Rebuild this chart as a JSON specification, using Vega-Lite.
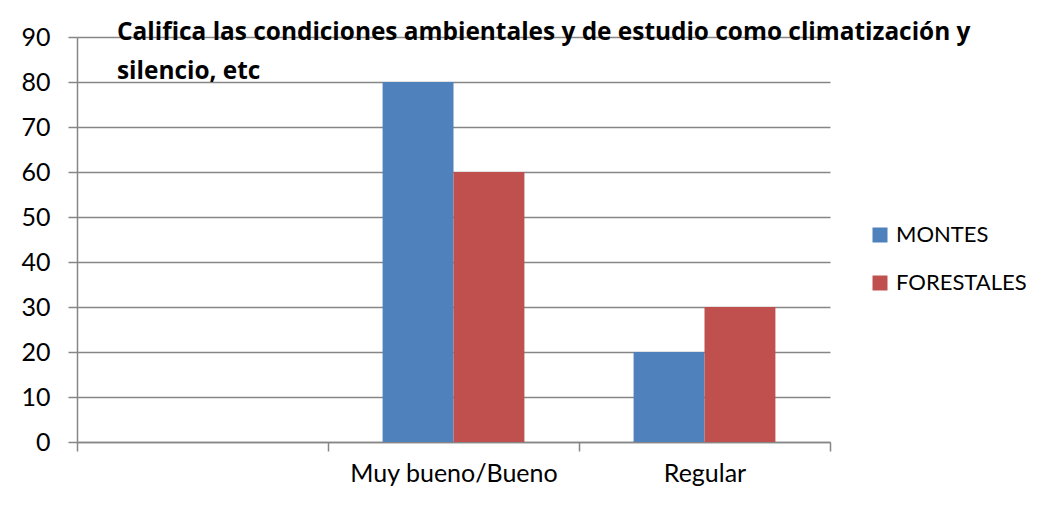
{
  "$schema": "https://vega.github.io/schema/vega-lite/v6.json",
  "width": 753,
  "height": 405,
  "autosize": {"type": "none"},
  "padding": {"left": 77, "top": 37, "right": 225, "bottom": 66},
  "background": "white",
  "config": {
    "view": {"stroke": null},
    "font": "Lato",
    "axis": {"labelFont": "Lato", "labelColor": "black", "labelFontSize": 25, "labelLimit": 0, "domainColor": "#868686", "tickColor": "#868686", "gridColor": "#868686", "domainWidth": 1.5, "tickWidth": 1.5, "gridWidth": 1.5}
  },
  "title": {
    "text": ["Califica las condiciones ambientales y de estudio como climatización y", "silencio, etc"],
    "anchor": "start",
    "frame": "group",
    "orient": "top",
    "font": "Open Sans",
    "fontSize": 24.4,
    "fontWeight": "bold",
    "color": "black",
    "baseline": "top",
    "lineHeight": 39,
    "offset": -59,
    "dx": 40
  },
  "data": {
    "values": [
      {"categoria": "Muy bueno/Bueno", "serie": "MONTES", "valor": 80},
      {"categoria": "Muy bueno/Bueno", "serie": "FORESTALES", "valor": 60},
      {"categoria": "Regular", "serie": "MONTES", "valor": 20},
      {"categoria": "Regular", "serie": "FORESTALES", "valor": 30}
    ]
  },
  "mark": {"type": "bar"},
  "encoding": {
    "x": {
      "field": "categoria",
      "type": "nominal",
      "sort": null,
      "scale": {"domain": ["", "Muy bueno/Bueno", "Regular"], "paddingInner": 0, "paddingOuter": 0},
      "axis": {"title": null, "labelAngle": 0, "tickBand": "extent", "tickSize": 9, "labelPadding": 10, "grid": false}
    },
    "xOffset": {
      "field": "serie",
      "type": "nominal",
      "scale": {"domain": ["MONTES", "FORESTALES"], "paddingInner": 0, "paddingOuter": 0.77}
    },
    "y": {
      "field": "valor",
      "type": "quantitative",
      "scale": {"domain": [0, 90], "nice": false},
      "axis": {"title": null, "values": [0, 10, 20, 30, 40, 50, 60, 70, 80, 90], "grid": true, "tickSize": 9, "labelPadding": 18}
    },
    "color": {
      "field": "serie",
      "type": "nominal",
      "scale": {"domain": ["MONTES", "FORESTALES"], "range": ["#4f81bd", "#c0504d"]},
      "legend": {
        "title": null,
        "orient": "none",
        "legendX": 792,
        "legendY": 187,
        "symbolType": "square",
        "symbolSize": 225,
        "symbolStrokeWidth": 0,
        "labelFont": "Lato",
        "labelFontSize": 22,
        "labelColor": "black",
        "labelOffset": 5,
        "rowPadding": 26
      }
    }
  }
}
